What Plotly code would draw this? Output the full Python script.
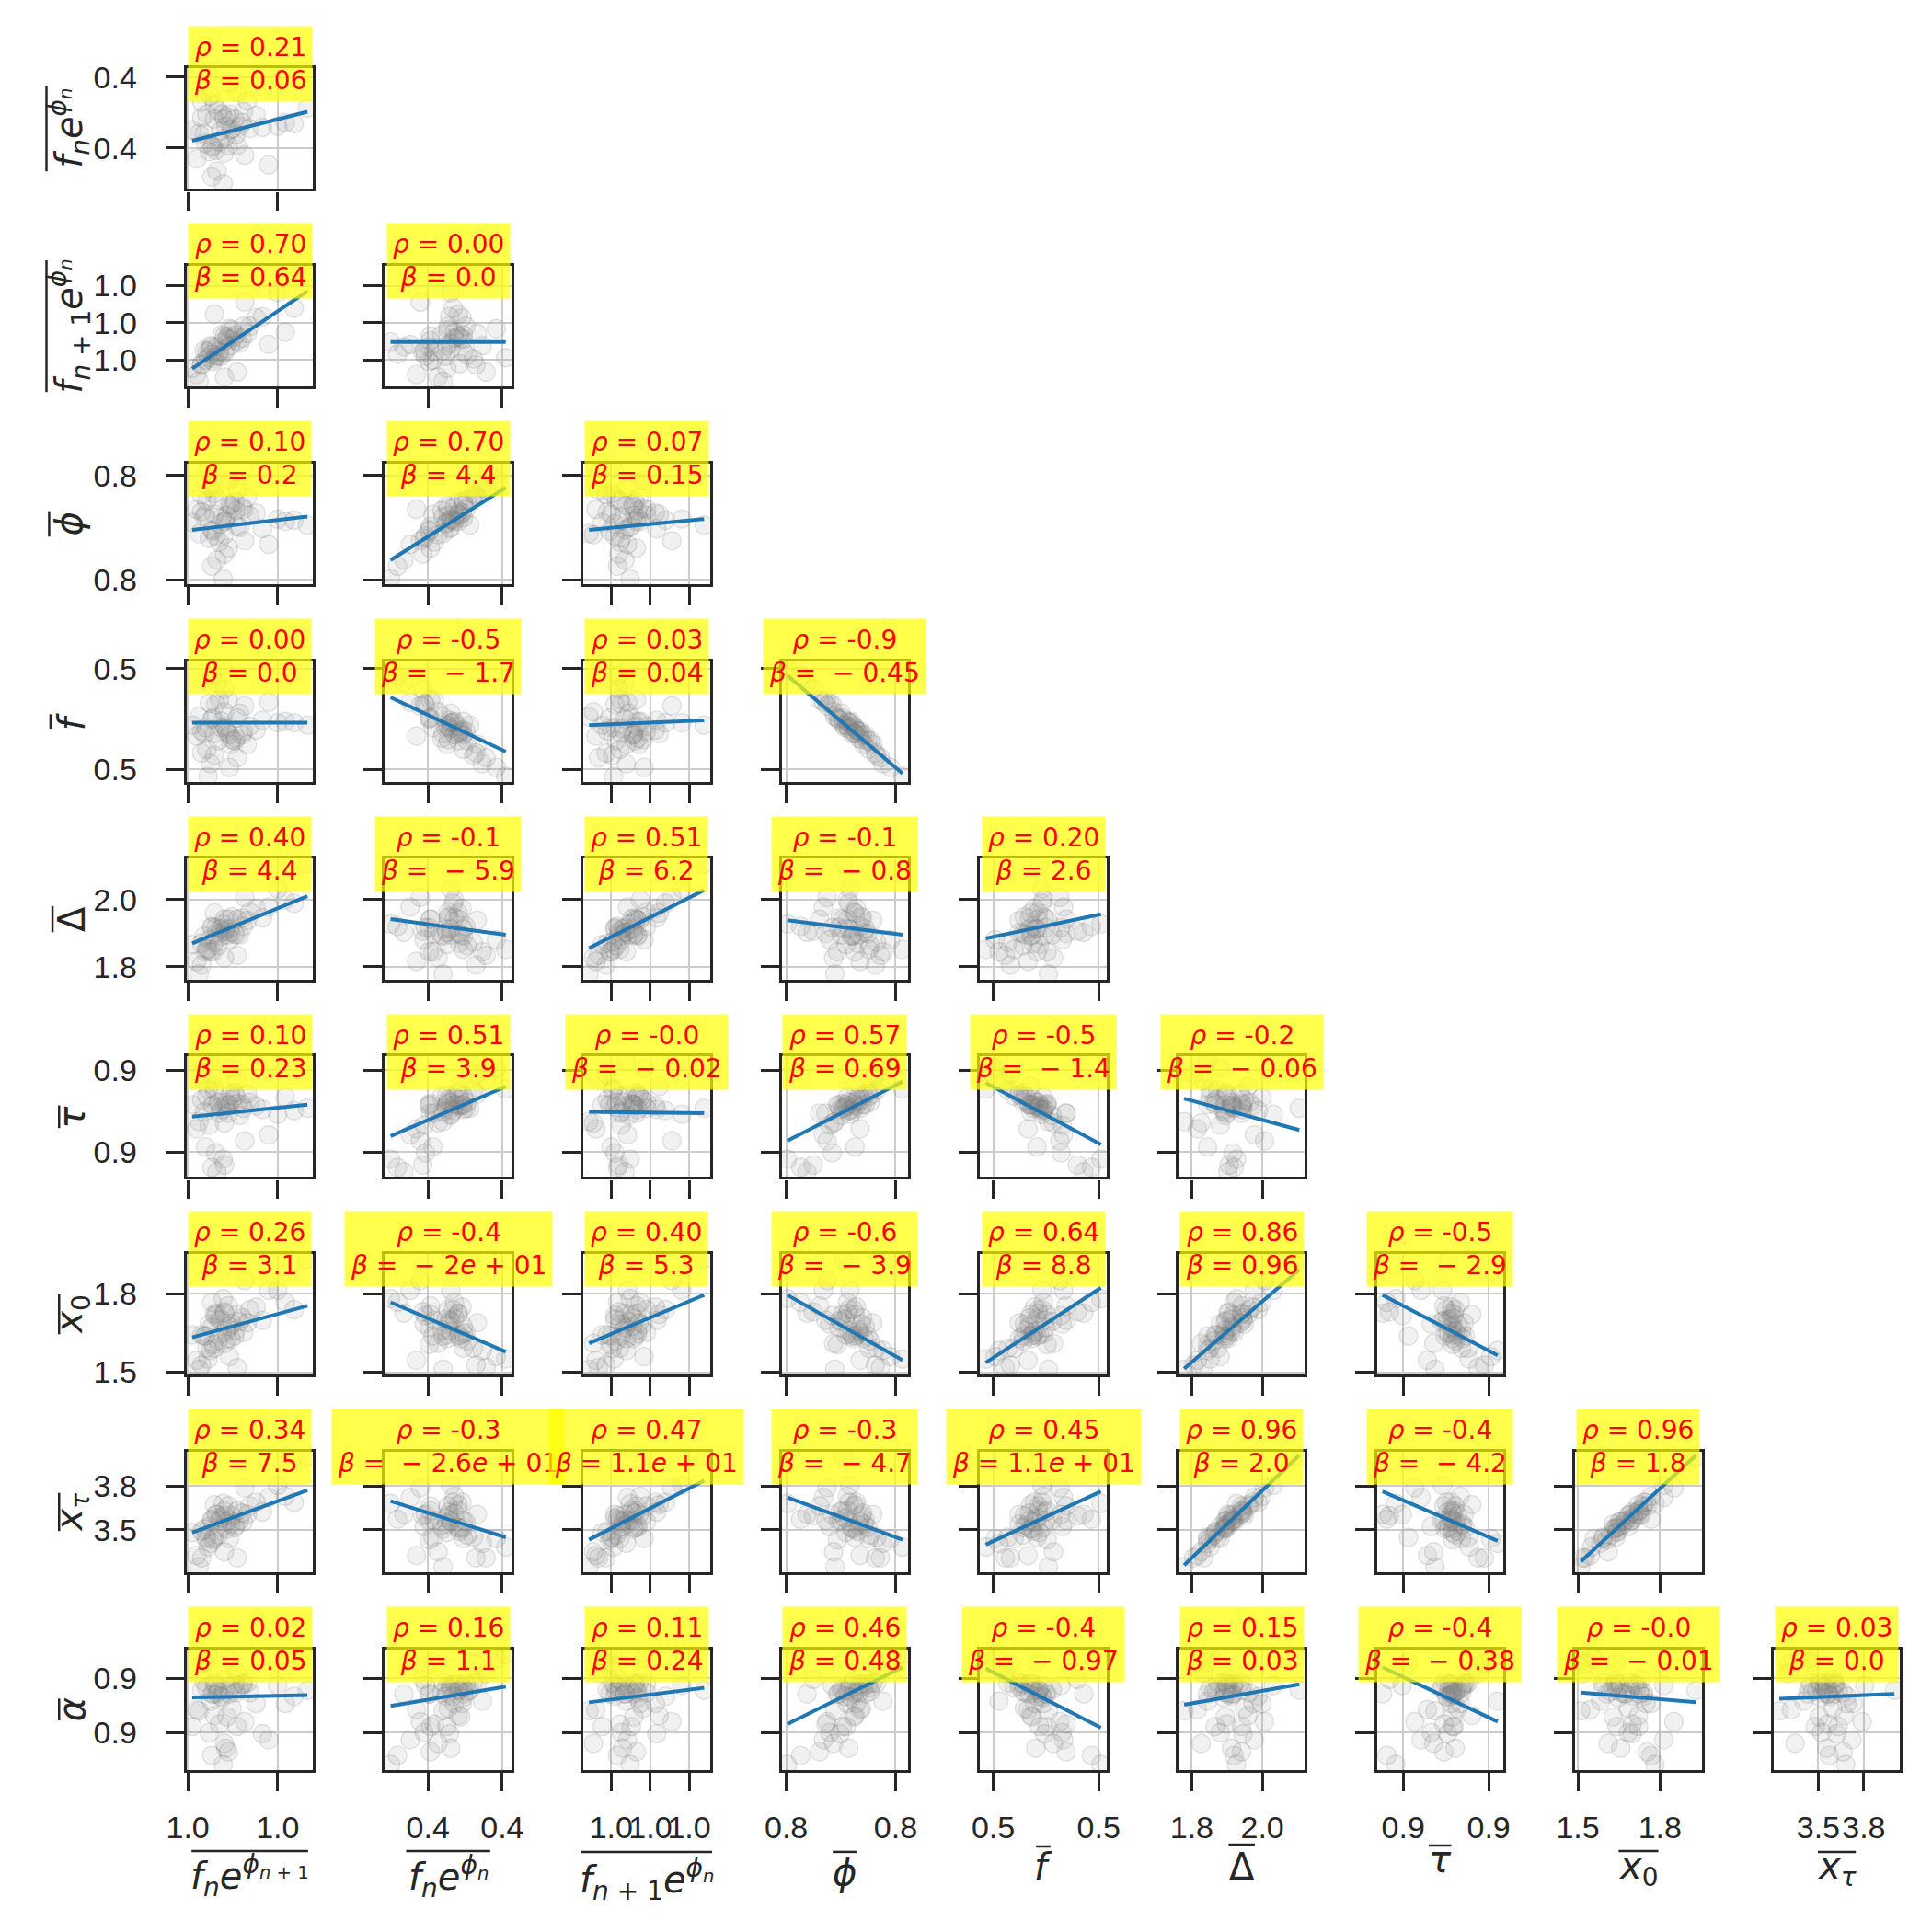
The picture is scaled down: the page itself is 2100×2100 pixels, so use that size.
import plotly.graph_objects as go

# ---------------- data (10 variables, 50 samples) ----------------
v0 = [1.0012, 1.0020, 1.0025, 1.0030, 1.0018, 1.0035, 1.0028, 1.0040, 1.0022, 1.0015,
      1.0033, 1.0045, 1.0027, 1.0038, 1.0010, 1.0050, 1.0024, 1.0031, 1.0019, 1.0042,
      1.0036, 1.0026, 1.0014, 1.0048, 1.0029, 1.0055, 1.0021, 1.0034, 1.00045, 1.0072,
      1.00955, 1.0017, 1.0039, 1.0023, 1.0032, 1.0044, 1.0060, 1.0030, 1.0016, 1.0085,
      1.0008, 1.0040, 1.0065, 1.0022, 1.0012, 1.0046, 1.0030, 1.0078, 1.0034, 1.0020]
v1 = [0.409, 0.385, 0.415, 0.408, 0.381, 0.399, 0.412, 0.386, 0.420, 0.388,
      0.386, 0.414, 0.398, 0.408, 0.396, 0.400, 0.365, 0.402, 0.427, 0.402,
      0.400, 0.389, 0.396, 0.423, 0.3545, 0.411, 0.385, 0.412, 0.399, 0.402,
      0.417, 0.4455, 0.395, 0.382, 0.410, 0.405, 0.401, 0.380, 0.412, 0.404,
      0.375, 0.430, 0.370, 0.408, 0.422, 0.378, 0.392, 0.405, 0.438, 0.360]
v2 = [0.979, 0.993, 0.986, 1.002, 0.990, 0.994, 1.003, 0.998, 0.983, 0.982,
      1.002, 1.010, 0.985, 1.001, 0.9645, 1.010, 0.993, 0.991, 0.994, 0.996,
      1.007, 0.989, 0.990, 1.004, 0.997, 1.017, 0.981, 0.999, 0.975, 1.038,
      1.0555, 0.984, 1.003, 0.985, 1.000, 1.000, 1.018, 0.988, 0.989, 1.025,
      0.970, 0.972, 0.995, 1.020, 0.978, 1.030, 0.968, 1.005, 1.008, 0.987]
v3 = [0.815, 0.800, 0.825, 0.807, 0.793, 0.820, 0.810, 0.803, 0.830, 0.813,
      0.785, 0.817, 0.805, 0.823, 0.797, 0.812, 0.775, 0.808, 0.835, 0.802,
      0.818, 0.790, 0.811, 0.827, 0.7595, 0.814, 0.799, 0.821, 0.806, 0.809,
      0.804, 0.8505, 0.816, 0.795, 0.812, 0.819, 0.801, 0.780, 0.824, 0.808,
      0.817, 0.833, 0.788, 0.813, 0.829, 0.791, 0.796, 0.807, 0.841, 0.770]
v4 = [0.492, 0.502, 0.484, 0.496, 0.515, 0.481, 0.500, 0.503, 0.472, 0.495,
      0.518, 0.492, 0.495, 0.484, 0.504, 0.496, 0.532, 0.494, 0.465, 0.507,
      0.485, 0.518, 0.490, 0.481, 0.5455, 0.493, 0.503, 0.489, 0.497, 0.499,
      0.497, 0.4545, 0.486, 0.514, 0.491, 0.489, 0.501, 0.527, 0.477, 0.499,
      0.488, 0.470, 0.516, 0.490, 0.474, 0.513, 0.508, 0.500, 0.462, 0.538]
v5 = [1.870, 1.922, 1.862, 1.950, 1.882, 1.906, 1.894, 1.950, 1.874, 1.842,
      1.950, 1.926, 1.918, 1.902, 1.768, 1.974, 1.906, 1.918, 1.842, 1.898,
      1.958, 1.902, 1.894, 1.946, 1.934, 1.986, 1.842, 1.918, 1.866, 2.050,
      2.132, 1.850, 1.898, 1.922, 1.898, 1.954, 1.954, 1.910, 1.850, 2.002,
      1.810, 1.830, 1.990, 1.970, 1.798, 2.022, 1.822, 2.014, 1.882, 1.926]
v6 = [0.924, 0.919, 0.922, 0.919, 0.903, 0.928, 0.916, 0.921, 0.932, 0.885,
      0.913, 0.917, 0.918, 0.930, 0.906, 0.922, 0.8645, 0.922, 0.9555, 0.911,
      0.924, 0.913, 0.914, 0.929, 0.875, 0.919, 0.920, 0.920, 0.920, 0.912,
      0.917, 0.933, 0.927, 0.880, 0.920, 0.920, 0.916, 0.870, 0.927, 0.915,
      0.900, 0.940, 0.895, 0.935, 0.945, 0.890, 0.905, 0.926, 0.950, 0.868]
v7 = [1.615, 1.645, 1.590, 1.705, 1.660, 1.600, 1.620, 1.700, 1.560, 1.610,
      1.735, 1.625, 1.680, 1.610, 1.4725, 1.720, 1.705, 1.630, 1.550, 1.670,
      1.660, 1.675, 1.610, 1.665, 1.765, 1.730, 1.575, 1.650, 1.615, 1.800,
      1.9275, 1.515, 1.635, 1.695, 1.600, 1.685, 1.675, 1.710, 1.560, 1.720,
      1.510, 1.480, 1.800, 1.700, 1.490, 1.840, 1.580, 1.750, 1.525, 1.750]
v8 = [3.472, 3.544, 3.448, 3.608, 3.504, 3.520, 3.496, 3.608, 3.432, 3.432,
      3.640, 3.536, 3.560, 3.496, 3.236, 3.640, 3.584, 3.536, 3.392, 3.544,
      3.576, 3.544, 3.488, 3.584, 3.656, 3.664, 3.416, 3.544, 3.464, 3.776,
      3.964, 3.368, 3.512, 3.584, 3.488, 3.592, 3.600, 3.576, 3.424, 3.664,
      3.312, 3.296, 3.696, 3.648, 3.296, 3.760, 3.336, 3.704, 3.424, 3.552]
v9 = [0.916, 0.913, 0.915, 0.916, 0.881, 0.919, 0.910, 0.886, 0.922, 0.939,
      0.865, 0.921, 0.911, 0.921, 0.899, 0.914, 0.913, 0.868, 0.907, 0.917,
      0.901, 0.888, 0.923, 0.922, 0.8545, 0.905, 0.913, 0.913, 0.886, 0.920,
      0.916, 0.9455, 0.914, 0.920, 0.894, 0.921, 0.880, 0.925, 0.918, 0.911,
      0.900, 0.930, 0.875, 0.895, 0.938, 0.890, 0.872, 0.905, 0.942, 0.862]
VARS = [v0, v1, v2, v3, v4, v5, v6, v7, v8, v9]

# axis ranges (lo, hi) of each variable
RANGES = [(1.0, 1.01), (0.35, 0.45), (0.96, 1.06), (0.755, 0.855), (0.45, 0.55),
          (1.75, 2.15), (0.86, 0.96), (1.45, 1.95), (3.2, 4.0), (0.85, 0.95)]
TICKVALS = [[1.0001, 1.0072], [0.384, 0.4427], [0.982, 1.013, 1.0436], [0.7586, 0.845],
            [0.4604, 0.5437], [1.792, 2.0152], [0.8808, 0.9484], [1.4605, 1.785],
            [3.4824, 3.7704], [0.8811, 0.9258]]
TICKTEXT = [["1.0", "1.0"], ["0.4", "0.4"], ["1.0", "1.0", "1.0"], ["0.8", "0.8"],
            ["0.5", "0.5"], ["1.8", "2.0"], ["0.9", "0.9"], ["1.5", "1.8"],
            ["3.5", "3.8"], ["0.9", "0.9"]]
LABELS = [
    "<i>f</i><sub><i>n</i></sub><i>e</i><sup><i>ϕ</i><sub><i>n</i> + 1</sub></sup>",
    "<i>f</i><sub><i>n</i></sub><i>e</i><sup><i>ϕ</i><sub><i>n</i></sub></sup>",
    "<i>f</i><sub><i>n</i> + 1</sub><i>e</i><sup><i>ϕ</i><sub><i>n</i></sub></sup>",
    "<i>ϕ</i>", "<i>f</i>", "Δ", "<i>τ</i>", "<i>x</i><sub>0</sub>",
    "<i>x</i><sub><i>τ</i></sub>", "<i>α</i>"]

# correlation / slope annotations, per row (y var = row+1), per column (x var = col)
RHO = [["0.21"],
       ["0.70", "0.00"],
       ["0.10", "0.70", "0.07"],
       ["0.00", "-0.5", "0.03", "-0.9"],
       ["0.40", "-0.1", "0.51", "-0.1", "0.20"],
       ["0.10", "0.51", "-0.0", "0.57", "-0.5", "-0.2"],
       ["0.26", "-0.4", "0.40", "-0.6", "0.64", "0.86", "-0.5"],
       ["0.34", "-0.3", "0.47", "-0.3", "0.45", "0.96", "-0.4", "0.96"],
       ["0.02", "0.16", "0.11", "0.46", "-0.4", "0.15", "-0.4", "-0.0", "0.03"]]
BETA = [["0.06"],
        ["0.64", "0.0"],
        ["0.2", "4.4", "0.15"],
        ["0.0", "−1.7", "0.04", "−0.45"],
        ["4.4", "−5.9", "6.2", "−0.8", "2.6"],
        ["0.23", "3.9", "−0.02", "0.69", "−1.4", "−0.06"],
        ["3.1", "−2e+01", "5.3", "−3.9", "8.8", "0.96", "−2.9"],
        ["7.5", "−2.6e+01", "1.1e+01", "−4.7", "1.1e+01", "2.0", "−4.2", "1.8"],
        ["0.05", "1.1", "0.24", "0.48", "−0.97", "0.03", "−0.38", "−0.01", "0.0"]]

# fitted line: y value at the smallest and at the largest x of each panel
LINE_L = [[0.390],
          [0.975, 0.997],
          [0.800, 0.775, 0.800],
          [0.499, 0.520, 0.497, 0.538],
          [1.870, 1.950, 1.854, 1.946, 1.886],
          [0.910, 0.894, 0.914, 0.890, 0.938, 0.925],
          [1.605, 1.750, 1.580, 1.780, 1.500, 1.475, 1.780],
          [3.464, 3.672, 3.416, 3.696, 3.384, 3.248, 3.736, 3.272],
          [0.910, 0.903, 0.906, 0.888, 0.934, 0.904, 0.935, 0.914, 0.909]]
LINE_R = [[0.414],
          [1.039, 0.997],
          [0.811, 0.835, 0.809],
          [0.499, 0.475, 0.501, 0.457],
          [2.026, 1.898, 2.046, 1.898, 1.966],
          [0.920, 0.935, 0.913, 0.939, 0.887, 0.899],
          [1.735, 1.545, 1.780, 1.510, 1.810, 1.885, 1.530],
          [3.744, 3.432, 3.808, 3.416, 3.736, 3.976, 3.408, 3.976],
          [0.912, 0.919, 0.918, 0.935, 0.885, 0.921, 0.890, 0.906, 0.913]]

# ---------------- geometry / style ----------------
W = 2100
COL_LEFT0, COL_PITCH, AX_W = 184, 219.5, 140
ROW_TOP0, ROW_PITCH, AX_H = 64, 217.6, 133
INK = "#262626"
TICK_FONT = dict(family="Liberation Sans, Arial, sans-serif", size=34, color=INK)
LABEL_FONT = dict(family="DejaVu Sans", size=40, color=INK)
ANN_FONT = dict(family="DejaVu Sans", size=28, color="#ff0000")

# label placement (pixels): x-label box tops, y-label box centres, overline bars
XLAB_TOP = [2023, 2024, 2027, 2025, 2019, 2019, 2011, 2018, 2018]
YLAB_X = [54, 54, 54, 57, 57, 57, 57, 57, 57]
XBAR_Y = [2027, 2027, 2028, 2028, 2022, 2020, 2021, 2027, 2028]
XBAR_W = [129, 93, 145, 27, 16, 29, 25, 44, 42]
YBAR_X = [29, 29, 32, 33.5, 35.7, 43, 43, 43, 43]
YBAR_L = [94, 145, 28, 16, 29, 25, 44, 42, 24]


def beta_text(b):
    if b.startswith("−"):
        b = "\u00a0− " + b[1:]
    b = b.replace("e+", "<i>e</i> + ")
    return b


fig = go.Figure()
layout = {}
annotations = []
shapes = []
k = 0
for r in range(9):
    yv = r + 1
    top = ROW_TOP0 + ROW_PITCH * r
    ydom = [1 - (top + AX_H) / W, 1 - top / W]
    for c in range(r + 1):
        xv = c
        k += 1
        xs = "" if k == 1 else str(k)
        left = COL_LEFT0 + COL_PITCH * c
        xdom = [left / W, (left + AX_W) / W]
        fig.add_trace(go.Scatter(
            x=VARS[xv], y=VARS[yv], mode="markers", xaxis="x" + xs, yaxis="y" + xs,
            marker=dict(size=20, color="rgba(128,128,128,0.11)",
                        line=dict(color="rgba(120,120,120,0.2)", width=1.3)),
            showlegend=False, hoverinfo="skip"))
        fig.add_trace(go.Scatter(
            x=[min(VARS[xv]), max(VARS[xv])], y=[LINE_L[r][c], LINE_R[r][c]],
            mode="lines", xaxis="x" + xs, yaxis="y" + xs,
            line=dict(color="#1f77b4", width=4), showlegend=False, hoverinfo="skip"))
        common = dict(showline=True, mirror=True, linecolor=INK, linewidth=3.3,
                      ticks="outside", ticklen=20, tickwidth=3, tickcolor=INK,
                      showgrid=True, gridcolor="#cccccc", gridwidth=2, zeroline=False,
                      tickfont=TICK_FONT, tickangle=0)
        layout["xaxis" + xs] = dict(common, domain=xdom, anchor="y" + xs,
                                    range=list(RANGES[xv]), tickmode="array",
                                    tickvals=TICKVALS[xv], ticktext=TICKTEXT[xv],
                                    showticklabels=(r == 8), ticklabelstandoff=10)
        layout["yaxis" + xs] = dict(common, domain=ydom, anchor="x" + xs,
                                    range=list(RANGES[yv]), tickmode="array",
                                    tickvals=TICKVALS[yv], ticktext=TICKTEXT[yv],
                                    showticklabels=(c == 0), ticklabelstandoff=24)
        annotations.append(dict(
            xref="x" + xs + " domain", yref="y" + xs + " domain", x=0.5, y=1.0,
            xanchor="center", yanchor="middle", showarrow=False, yshift=5,
            text="<i>ρ</i> = " + RHO[r][c] + "<br><i>β</i> = " + beta_text(BETA[r][c]),
            font=ANN_FONT, bgcolor="rgba(255,255,0,0.7)", borderpad=6, align="center"))

# axis labels with their overline bars
for c in range(9):
    cxp = COL_LEFT0 + COL_PITCH * c + AX_W / 2
    annotations.append(dict(xref="paper", yref="paper", x=cxp / W, y=1 - XLAB_TOP[c] / W,
                            xanchor="center", yanchor="top", showarrow=False,
                            text=LABELS[c], font=LABEL_FONT))
    shapes.append(dict(type="line", xref="paper", yref="paper",
                       x0=(cxp - XBAR_W[c] / 2) / W, x1=(cxp + XBAR_W[c] / 2) / W,
                       y0=1 - XBAR_Y[c] / W, y1=1 - XBAR_Y[c] / W,
                       line=dict(color=INK, width=2.5)))
for r in range(9):
    cyp = ROW_TOP0 + ROW_PITCH * r + AX_H / 2
    annotations.append(dict(xref="paper", yref="paper", x=YLAB_X[r] / W, y=1 - cyp / W,
                            xanchor="center", yanchor="middle", showarrow=False,
                            textangle=-90, text=LABELS[r + 1], font=LABEL_FONT))
    shapes.append(dict(type="line", xref="paper", yref="paper",
                       x0=YBAR_X[r] / W, x1=YBAR_X[r] / W,
                       y0=1 - (cyp - YBAR_L[r] / 2) / W, y1=1 - (cyp + YBAR_L[r] / 2) / W,
                       line=dict(color=INK, width=2.5)))

fig.update_layout(width=W, height=W, margin=dict(l=0, r=0, t=0, b=0),
                  paper_bgcolor="white", plot_bgcolor="white",
                  annotations=annotations, shapes=shapes, **layout)
fig.write_html("out.html")
